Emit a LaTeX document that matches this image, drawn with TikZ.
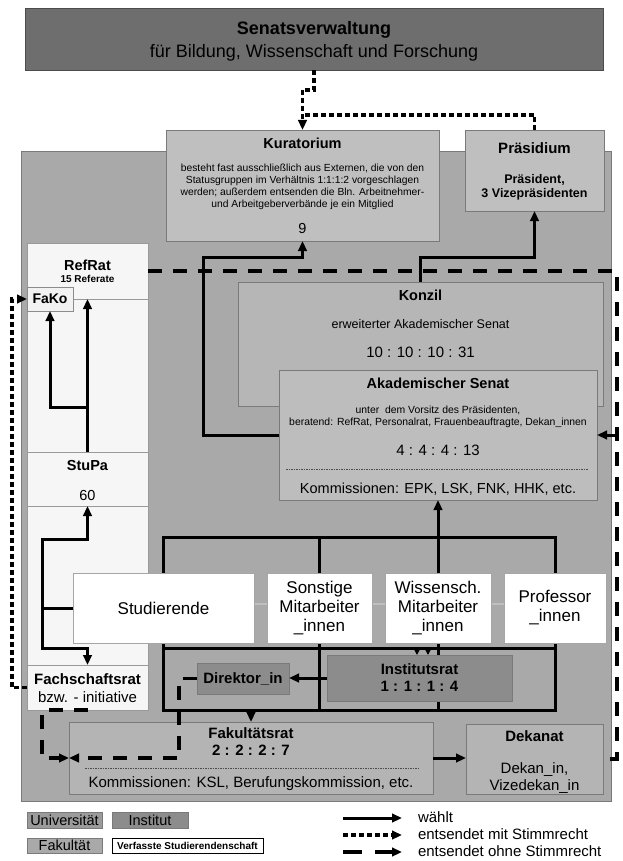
\documentclass[tikz,border=0pt]{standalone}
\usepackage{fontspec}
\setmainfont{Liberation Sans}
\usetikzlibrary{arrows.meta,backgrounds,calc}
\definecolor{cUni}{HTML}{A9A9A9}
\definecolor{cSen}{HTML}{6E6E6E}
\definecolor{cKur}{HTML}{BFBFBF}
\definecolor{cKon}{HTML}{B6B6B6}
\definecolor{cAS}{HTML}{BDBDBD}
\definecolor{cInst}{HTML}{8C8C8C}
\definecolor{cFak}{HTML}{B4B4B4}
\definecolor{cVS}{HTML}{F6F6F6}
\definecolor{cEdge}{HTML}{7A7A7A}
\newcommand{\fsz}[1]{\fontsize{#1}{#1}\selectfont}
\tikzset{
 bxs/.style={rectangle, inner sep=0pt, outer sep=0pt, line width=0.8pt, draw=cEdge, anchor=north west},
 tx/.style={inner sep=0pt, outer sep=0pt, text=black, align=center},
 tip/.style={-{Triangle[length=10pt,width=8.5pt]}},
 waehlt/.style={line width=3pt, tip},
 plainln/.style={line width=3pt},
 mit/.style={line width=3.2pt, dash pattern=on 5pt off 3pt},
 ohne/.style={line width=3.2pt, dash pattern=on 14pt off 11pt},
 dotsep/.style={line width=1pt, dash pattern=on 1.5pt off 1pt, black!70},
 lightln/.style={line width=1.5pt, black!25},
}
\begin{document}
\begin{tikzpicture}[x=1pt,y=-1pt]
\useasboundingbox (0,0) rectangle (623,861);
\begin{scope}[on background layer]
 \fill[white] (0,0) rectangle (623,861);
 \node[bxs, fill=cUni, minimum width=590pt, minimum height=650pt] (uni) at (21,151) {};
\end{scope}

% Senatsverwaltung
\node[bxs, fill=cSen, draw=black!70, minimum width=578pt, minimum height=62pt] (senat) at (25,8) {};
\node[tx, font=\bfseries\fsz{18}] (senatT) at (314,30) {Senatsverwaltung};
\node[tx, font=\fsz{18}] (senatU) at (314,53) {für Bildung, Wissenschaft und Forschung};

% Kuratorium
\node[bxs, fill=cKur, minimum width=273pt, minimum height=111pt] (kur) at (166,130) {};
\node[tx, font=\bfseries\fsz{14.5}] (kurT) at (302.5,143) {Kuratorium};
\node[tx, font=\fontsize{10.3}{12}\selectfont] (kurB) at (302.5,187) {besteht fast ausschließlich aus Externen, die von den\\Statusgruppen im Verhältnis 1:1:1:2 vorgeschlagen\\werden; außerdem entsenden die Bln. Arbeitnehmer-\\und Arbeitgeberverbände je ein Mitglied};
\node[tx, font=\fsz{14.5}] (kurN) at (302.5,229) {9};

% Praesidium
\node[bxs, fill=cKur, minimum width=139pt, minimum height=81pt] (prae) at (465,130) {};
\node[tx, font=\bfseries\fsz{15}] (praeT) at (534.5,148) {Präsidium};
\node[tx, font=\bfseries\fontsize{12.5}{14}\selectfont] (praeB) at (534.5,187) {Präsident,\\3 Vizepräsidenten};

% Verfasste Studierendenschaft column
\node[bxs, fill=cVS, draw=black!40, minimum width=121pt, minimum height=56pt] (refrat) at (27,243) {};
\node[bxs, fill=cVS, draw=black!40, minimum width=121pt, minimum height=153pt] (vsA) at (27,299) {};
\node[bxs, fill=cVS, draw=black!40, minimum width=121pt, minimum height=54pt] (stupa) at (27,452) {};
\node[bxs, fill=cVS, draw=black!40, minimum width=121pt, minimum height=159pt] (vsB) at (27,506) {};
\node[bxs, fill=cVS, draw=black!40, minimum width=121pt, minimum height=45pt] (fsr) at (27,665) {};
\node[tx, font=\bfseries\fsz{14.5}] (refratT) at (87.5,265) {RefRat};
\node[tx, font=\bfseries\fsz{10}] (refratU) at (87.5,279) {15 Referate};
\node[tx, font=\bfseries\fsz{14.5}] (stupaT) at (87.5,466) {StuPa};
\node[tx, font=\fsz{14.5}] (stupaN) at (87.5,496) {60};
\node[tx, font=\bfseries\fsz{15}] (fsrT) at (87.5,679) {Fachschaftsrat};
\node[tx, font=\fsz{15}] (fsrU) at (87.5,697) {bzw. - initiative};
\node[bxs, fill=black!5, draw=black!45, minimum width=46pt, minimum height=24pt] (fako) at (27,287) {};
\node[tx, font=\bfseries\fsz{14}] (fakoT) at (fako.center) {FaKo};

% Konzil and Akademischer Senat
\node[bxs, fill=cKon, minimum width=365pt, minimum height=124pt] (konzil) at (238,282) {};
\node[tx, font=\bfseries\fsz{14.5}] (konzilT) at (420.5,295) {Konzil};
\node[tx, font=\fsz{12.5}] (konzilU) at (420.5,324) {erweiterter Akademischer Senat};
\node[tx, font=\fsz{15}] (konzilN) at (420.5,352) {10 : 10 : 10 : 31};
\node[bxs, fill=cAS, minimum width=318pt, minimum height=130pt] (as) at (279,370) {};
\node[tx, font=\bfseries\fsz{14.5}] (asT) at (438,383) {Akademischer Senat};
\node[tx, font=\fontsize{10.4}{12}\selectfont] (asU) at (438,417) {unter\ \ dem Vorsitz des Präsidenten,\\beratend: RefRat, Personalrat, Frauenbeauftragte, Dekan\_innen};
\node[tx, font=\fsz{15}] (asN) at (438,450) {4 : 4 : 4 : 13};
\draw[dotsep] (286,469) -- (588,469);
\node[tx, font=\fsz{14.5}] (asK) at (438,489) {Kommissionen: EPK, LSK, FNK, HHK, etc.};

% status groups
\node[bxs, fill=white, draw=black!35, minimum width=181pt, minimum height=70pt] (stud) at (73,573) {};
\node[tx, font=\fsz{17}] (studT) at (stud.center) {Studierende};
\node[bxs, fill=white, draw=black!35, minimum width=105pt, minimum height=70pt] (sonst) at (267,573) {};
\node[tx, font=\fontsize{17}{19}\selectfont] (sonstT) at (sonst.center) {Sonstige\\Mitarbeiter\\\_innen};
\node[bxs, fill=white, draw=black!35, minimum width=106pt, minimum height=70pt] (wiss) at (385,573) {};
\node[tx, font=\fontsize{17}{19}\selectfont] (wissT) at (wiss.center) {Wissensch.\\Mitarbeiter\\\_innen};
\node[bxs, fill=white, draw=black!35, minimum width=102pt, minimum height=70pt] (prof) at (504,573) {};
\node[tx, font=\fontsize{17}{19}\selectfont] (profT) at (prof.center) {Professor\\\_innen};

% Institut
\node[bxs, fill=cInst, minimum width=185pt, minimum height=46pt] (inst) at (327,655) {};
\node[tx, font=\bfseries\fontsize{15}{17}\selectfont] (instT) at (inst.center) {Institutsrat\\1 : 1 : 1 : 4};
\node[bxs, fill=cInst, minimum width=92pt, minimum height=31pt] (dir) at (197,663) {};
\node[tx, font=\bfseries\fsz{15}] (dirT) at (dir.center) {Direktor\_in};

% Fakultaet
\node[bxs, fill=cFak, minimum width=364pt, minimum height=72pt] (fakrat) at (69,722) {};
\node[tx, font=\bfseries\fontsize{15}{17}\selectfont] (fakratT) at (251,742) {Fakultätsrat\\2 : 2 : 2 : 7};
\draw[dotsep] (85,768) -- (418,768);
\node[tx, font=\fsz{15}] (fakratK) at (251,784) {Kommissionen: KSL, Berufungskommission, etc.};
\node[bxs, fill=cFak, minimum width=137pt, minimum height=70pt] (dek) at (466,724) {};
\node[tx, font=\bfseries\fsz{15}] (dekT) at (534.5,736) {Dekanat};
\node[tx, font=\fontsize{15}{16.5}\selectfont] (dekB) at (534.5,778) {Dekan\_in,\\Vizedekan\_in};

% group frame behind boxes
\begin{scope}[on background layer]
 \draw[lightln] ([yshift=4pt]stud.east) -- ([yshift=4pt]prof.west);
 \draw[plainln] (stud.north) -- ++(0,-36) -| (prof.north);
 \draw[plainln] (sonst.north) -- ++(0,-36);
 \draw[plainln] (stud.south) -- ++(0,67) -| (prof.south);
 \draw[plainln] ([yshift=-5pt]stud.south) -- ([yshift=-5pt]stud.south -| prof.south);
 \draw[plainln] (sonst.south) -- ++(0,67);
 \draw[plainln] (wiss.south) -- ++(0,67);
\end{scope}

% connectors
\draw[mit, tip] (senat.south) -- ++(0,20) -| (kur.north);
\draw[mit] (prae.north) |- ([yshift=15pt]kur.north);
\draw[waehlt] (as.west) -- ++(-76,0) |- ([yshift=-16pt]kur.south) -- (kur.south);
\draw[waehlt] (konzil.north) -- ++(0,-25) -| (prae.south);
\coordinate (rc) at (617,435);
\draw[ohne] (refrat.east) -| (rc) |- (dek.east);
\draw[line width=3pt, tip] (rc) -- (as.east);
\draw[waehlt] (stupa.north) -- (refrat.south);
\coordinate (br1) at (87.5,407);
\draw[waehlt] (br1) -| (fako.south);
\draw[waehlt] (stud.west) -- ++(-31,0) |- ([yshift=-33pt]stupa.south) -- (stupa.south);
\draw[waehlt] (stud.west) -- ++(-31,0) |- ([yshift=17pt]fsr.north) -- (fsr.north);
\draw[mit, tip] (fsr.west) -- ++(-15,0) |- (fako.west);
\draw[ohne, tip] (fsr.south) -- ++(-45.5,0) |- (fakrat.west);
\draw[ohne, tip] (dir.west) -- ++(-18,0) |- (fakrat.west);
\draw[waehlt] (inst.west) -- (inst.west -| dir.east);
\draw[waehlt] (wiss.north) -- (as.south);
\coordinate (ia) at (417,647);
\coordinate (ib) at (428,647);
\draw[line width=1.5pt, -{Triangle[length=7pt,width=7pt]}] (ia) -- (ia |- inst.north);
\draw[line width=1.5pt, -{Triangle[length=7pt,width=7pt]}] (ib) -- (ib |- inst.north);
\coordinate (gb) at (251,710);
\draw[waehlt] (gb) -- (fakrat.north);
\draw[waehlt] (fakrat.east) -- (fakrat.east -| dek.west);

% legend
\node[bxs, fill=cUni!92!black, minimum width=75pt, minimum height=16pt] (lgU) at (27,812) {};
\node[tx, font=\fsz{14.5}] (lgUT) at (lgU.center) {Universität};
\node[bxs, fill=cInst, minimum width=76pt, minimum height=16pt] (lgI) at (112,812) {};
\node[tx, font=\fsz{14.5}] (lgIT) at (lgI.center) {Institut};
\node[bxs, fill=cUni, minimum width=75pt, minimum height=15pt] (lgF) at (27,838) {};
\node[tx, font=\fsz{14.5}] (lgFT) at (lgF.center) {Fakultät};
\node[bxs, fill=white, draw=black, minimum width=151pt, minimum height=15pt] (lgV) at (112,838) {};
\node[tx, font=\bfseries\fsz{10}] (lgVT) at (lgV.center) {Verfasste Studierendenschaft};
\coordinate (l1a) at (343,818); \coordinate (l1b) at (402,818);
\coordinate (l2a) at (343,835); \coordinate (l2b) at (402,835);
\coordinate (l3a) at (343,852); \coordinate (l3b) at (402,852);
\draw[waehlt] (l1a) -- (l1b);
\draw[mit, tip] (l2a) -- (l2b);
\draw[line width=3.2pt, dash pattern=on 19pt off 13pt, tip] (l3a) -- (l3b);
\node[tx, anchor=west, font=\fsz{15}] (l1t) at (418,817) {wählt};
\node[tx, anchor=west, font=\fsz{15}] (l2t) at (418,834) {entsendet mit Stimmrecht};
\node[tx, anchor=west, font=\fsz{15}] (l3t) at (418,851) {entsendet ohne Stimmrecht};
\end{tikzpicture}
\end{document}
